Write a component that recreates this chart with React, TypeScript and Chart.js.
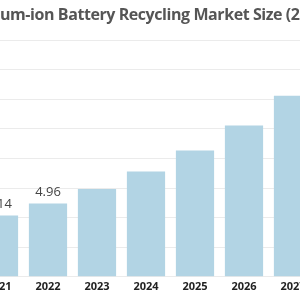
import React, { useEffect, useRef } from "react";
import { Chart, registerables } from "chart.js";
Chart.register(...registerables);

const years = ["2021", "2022", "2023", "2024", "2025", "2026", "2027"];
const marketSize = [4.14, 4.96, 5.94, 7.12, 8.53, 10.22, 12.24];
const valueLabels = ["4.14", "4.96", "", "", "", "", ""];
const titleText = "Lithium-ion Battery Recycling Market Size (2021-2030)";
const OFFSET = 40;

const labelPlugin = {
  id: "valueLabels",
  afterDatasetsDraw(chart: any) {
    const { ctx } = chart;
    const meta = chart.getDatasetMeta(0);
    ctx.save();
    ctx.font = "500 13px 'Open Sans', sans-serif";
    ctx.fillStyle = "#444";
    ctx.textAlign = "center";
    ctx.textBaseline = "middle";
    meta.data.forEach((bar: any, i: number) => {
      const t = valueLabels[i];
      if (t) ctx.fillText(t, bar.x, bar.y - 11);
    });
    ctx.restore();
  },
};

const titlePlugin = {
  id: "wideTitle",
  afterDraw(chart: any) {
    const { ctx } = chart;
    ctx.save();
    ctx.font = "bold 16px 'Open Sans', sans-serif";
    const visible = "um-ion Battery Recycling Market Size (2";
    const w = ctx.measureText(visible).width;
    const spacing = (300 - w) / (visible.length - 1);
    (ctx as any).letterSpacing = spacing.toFixed(2) + "px";
    const prefix = ctx.measureText("Lithi").width;
    ctx.fillStyle = "#555";
    ctx.textAlign = "left";
    ctx.textBaseline = "alphabetic";
    ctx.fillText(titleText, OFFSET - prefix, 20);
    ctx.restore();
  },
};

export default function App() {
  const ref = useRef<HTMLCanvasElement>(null);
  useEffect(() => {
    if (!ref.current) return;
    const chart = new Chart(ref.current, {
      type: "bar",
      data: {
        labels: years,
        datasets: [
          {
            data: marketSize,
            backgroundColor: "#b2d4e4",
            categoryPercentage: 0.78,
            barPercentage: 1,
          },
        ],
      },
      options: {
        animation: false,
        responsive: false,
        maintainAspectRatio: false,
        layout: { padding: { left: 14.5, right: 62.5, top: 40, bottom: 4 } },
        plugins: {
          legend: { display: false },
          tooltip: { enabled: false },
          title: { display: false },
        },
        scales: {
          x: {
            grid: { display: false, drawTicks: false },
            border: { display: false },
            ticks: {
              color: "#222",
              font: { family: "'Open Sans', sans-serif", size: 11, weight: "bold" },
              padding: 3,
            },
          },
          y: {
            min: 0,
            max: 16,
            ticks: { display: false, stepSize: 2 },
            grid: { color: "#ebebeb", lineWidth: 1, drawTicks: false },
            border: { display: false },
          },
        },
      },
      plugins: [labelPlugin, titlePlugin],
    });
    return () => chart.destroy();
  }, []);
  return (
    <div style={{ position: "fixed", left: 0, top: 0, width: 300, height: 300, overflow: "hidden", background: "#fff" }}>
      <canvas ref={ref} width={420} height={300} style={{ position: "absolute", left: -OFFSET, top: 0, width: 420, height: 300 }} />
    </div>
  );
}
